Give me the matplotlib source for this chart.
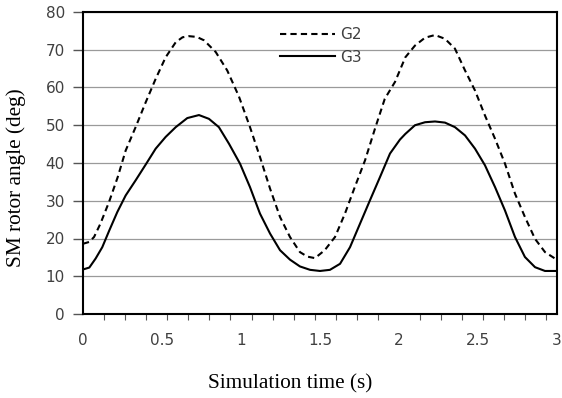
import numpy as np
import matplotlib.pyplot as plt
from matplotlib.ticker import MultipleLocator

# -------------------------------
# DATA
# -------------------------------
t_g2 = [0.0, 0.04, 0.07, 0.11, 0.165, 0.22, 0.27, 0.333, 0.397, 0.46, 0.523,
        0.587, 0.63, 0.67, 0.72, 0.766, 0.84, 0.913, 0.987, 1.057, 1.12,
        1.184, 1.247, 1.31, 1.373, 1.42, 1.468, 1.53, 1.595, 1.658, 1.72,
        1.785, 1.848, 1.91, 1.975, 2.04, 2.101, 2.165, 2.228, 2.291, 2.354,
        2.418, 2.481, 2.544, 2.608, 2.671, 2.734, 2.797, 2.861, 2.924, 2.987,
        3.0]
g2 = [18.6, 19.1, 20.4, 23.9, 29.7, 36.3, 43.3, 49.5, 56.1, 62.3, 68.0,
      72.0, 73.3, 73.6, 73.4, 72.5, 69.4, 64.5, 57.6, 49.5, 41.6,
      33.2, 25.7, 20.4, 16.4, 15.2, 14.8, 16.9, 20.4, 26.6, 33.6,
      40.7, 49.1, 57.0, 61.5, 68.0, 71.1, 73.2, 73.9, 72.9, 70.3,
      64.5, 59.2, 52.6, 46.4, 39.8, 31.9, 25.7, 19.9, 16.4, 14.7,
      14.6]

t_g3 = [0.0, 0.04, 0.08, 0.122, 0.165, 0.217, 0.27, 0.333, 0.397, 0.46,
        0.523, 0.587, 0.66, 0.734, 0.797, 0.86, 0.924, 0.994, 1.057, 1.12,
        1.184, 1.247, 1.31, 1.373, 1.437, 1.5, 1.563, 1.627, 1.69, 1.753,
        1.816, 1.88, 1.943, 2.006, 2.04, 2.101, 2.165, 2.228, 2.291, 2.354,
        2.418, 2.481, 2.544, 2.608, 2.671, 2.734, 2.797, 2.861, 2.924, 3.0]
g3 = [11.8, 12.3, 14.7, 17.7, 22.0, 27.0, 31.4, 35.4, 39.6, 43.8,
      46.9, 49.5, 51.9, 52.7, 51.7, 49.5, 45.1, 39.8, 33.6, 26.6,
      21.3, 16.9, 14.4, 12.6, 11.7, 11.4, 11.7, 13.3, 17.7, 23.9,
      30.1, 36.3, 42.5, 46.2, 47.7, 50.0, 50.8, 51.0, 50.7, 49.5,
      47.3, 43.8, 39.4, 33.6, 27.4, 20.4, 15.1, 12.4, 11.4, 11.4]

x_ticks = [0, 0.5, 1, 1.5, 2, 2.5, 3]
x_ticklabels = ["0", "0.5", "1", "1.5", "2", "2.5", "3"]
y_ticks = [0, 10, 20, 30, 40, 50, 60, 70, 80]


def main():
    fig = plt.figure(figsize=(5.62, 3.98), dpi=100)
    ax = fig.add_axes([83 / 562, 1 - 314 / 398, 474 / 562, 302 / 398])

    ax.plot(t_g2, g2, color="black", linewidth=1.5, linestyle=(0, (3, 2)),
            label="G2")
    ax.plot(t_g3, g3, color="black", linewidth=1.5, label="G3")

    ax.set_xlim(0, 3)
    ax.set_ylim(0, 80)

    # оси
    ax.set_yticks(y_ticks)
    ax.set_xticks(x_ticks)
    ax.set_xticklabels(x_ticklabels)
    ax.xaxis.set_minor_locator(MultipleLocator(2 / 15))
    ax.tick_params(axis="x", which="major", length=0, pad=14,
                   labelsize=11, labelcolor="#404040")
    ax.tick_params(axis="x", which="minor", length=4, width=0.8,
                   direction="out", color="#555555")
    ax.tick_params(axis="y", which="major", length=7, width=1,
                   direction="out", pad=6, labelsize=11,
                   labelcolor="#404040", color="#555555")

    ax.grid(True, axis="y", color="#9a9a9a", linewidth=0.9)
    ax.set_axisbelow(True)
    for side in ["left", "bottom", "top", "right"]:
        ax.spines[side].set_linewidth(1.5)
        ax.spines[side].set_color("black")

    ax.legend(loc="upper left", bbox_to_anchor=((274 - 83) / 474, 1 - 9 / 302),
              frameon=False, fontsize=11, handlelength=3.6,
              handletextpad=0.35, labelspacing=0.5, borderaxespad=0,
              labelcolor="#404040")

    fig.text(16 / 562, 1 - 178 / 398, "SM rotor angle (deg)",
             family="Liberation Serif", fontsize=15.3, rotation=90,
             ha="center", va="center")
    fig.text(290 / 562, 1 - 384 / 398, "Simulation time (s)",
             family="Liberation Serif", fontsize=15.3,
             ha="center", va="center")

    fig.savefig("out.png", dpi=100)
    plt.close(fig)


if __name__ == "__main__":
    main()
